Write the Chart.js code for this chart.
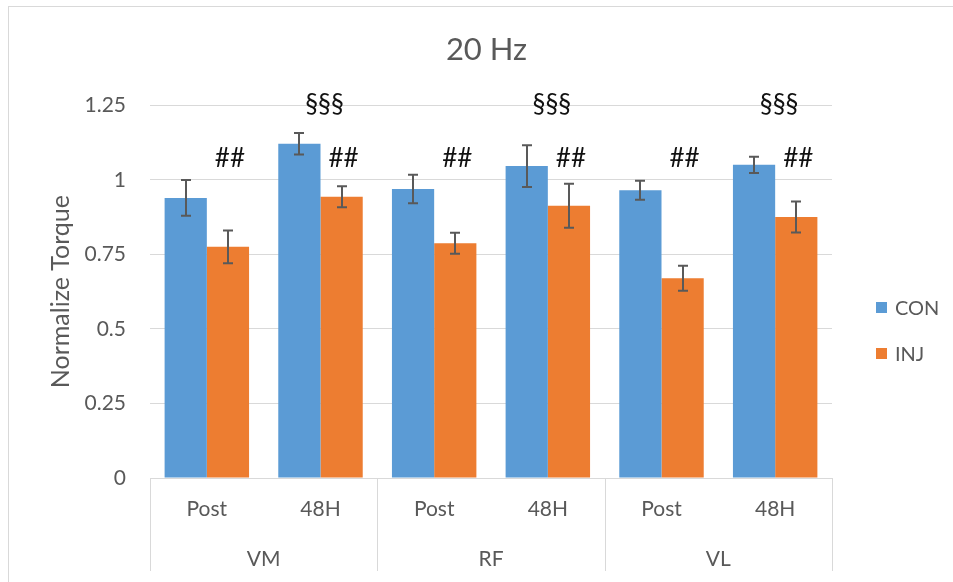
<!DOCTYPE html>
<html><head><meta charset="utf-8">
<script src="https://cdn.jsdelivr.net/npm/chart.js@4"></script>
<style>
html,body{margin:0;padding:0;background:#fff;overflow:hidden}
#wrap{position:relative;width:953px;height:582px;overflow:hidden;background:#fff}
#frame{position:absolute;left:8px;top:6px;width:1000px;height:1000px;border:1px solid #d9d9d9;box-sizing:border-box}
canvas{position:absolute;left:0;top:0}
</style></head><body>
<div id="wrap"><div id="frame"></div><canvas id="c" width="953" height="582"></canvas></div>
<script>
const groups = ['VM', 'RF', 'VL'];
const categories = ['Post', '48H', 'Post', '48H', 'Post', '48H'];
const seriesNames = ['CON', 'INJ'];
const conValues = [0.939, 1.121, 0.969, 1.046, 0.965, 1.050];
const conErrors = [0.060, 0.036, 0.048, 0.070, 0.032, 0.027];
const injValues = [0.775, 0.943, 0.787, 0.913, 0.670, 0.875];
const injErrors = [0.055, 0.035, 0.035, 0.074, 0.042, 0.052];
const injMarks = ['##', '##', '##', '##', '##', '##'];
const timeMarks = ['', '§§§', '', '§§§', '', '§§§'];
const injMarkLevel = 1.072;
const timeMarkLevel = 1.252;
const yTickValues = [0, 0.25, 0.5, 0.75, 1, 1.25];

const FONT = 'Lato, "Open Sans", sans-serif';
const GREY = '#595959';
const LINE = '#d9d9d9';
const COLORS = ['#5B9BD5', '#ED7D31'];
const errors = [conErrors, injErrors];

const extrasPlugin = {
  id: 'extras',
  afterDatasetsDraw(chart) {
    const ctx = chart.ctx;
    const y = chart.scales.y;
    ctx.save();
    ctx.strokeStyle = GREY;
    ctx.lineWidth = 2;
    chart.data.datasets.forEach((ds, i) => {
      const meta = chart.getDatasetMeta(i);
      meta.data.forEach((el, j) => {
        const v = ds.data[j], e = errors[i][j];
        const yt = y.getPixelForValue(v + e), yb = y.getPixelForValue(v - e);
        const x = Math.round(el.x);
        ctx.beginPath();
        ctx.moveTo(x, yt); ctx.lineTo(x, yb);
        ctx.moveTo(x - 5, yt); ctx.lineTo(x + 5, yt);
        ctx.moveTo(x - 5, yb); ctx.lineTo(x + 5, yb);
        ctx.stroke();
      });
    });
    ctx.fillStyle = '#111';
    ctx.font = '26px ' + FONT;
    ctx.textAlign = 'center';
    ctx.textBaseline = 'middle';
    const injMeta = chart.getDatasetMeta(1);
    injMarks.forEach((m, j) => {
      if (!m) return;
      ctx.fillText(m, injMeta.data[j].x + 2, y.getPixelForValue(injMarkLevel));
    });
    const xs = chart.scales.x;
    timeMarks.forEach((m, j) => {
      if (!m) return;
      ctx.fillText(m, xs.getPixelForValue(j) + 4, y.getPixelForValue(timeMarkLevel));
    });
    ctx.restore();
  },
  afterDraw(chart) {
    const ctx = chart.ctx;
    const xs = chart.scales.x;
    const ca = chart.chartArea;
    const w = (xs.right - xs.left) / categories.length;
    const per = categories.length / groups.length;
    ctx.save();
    ctx.strokeStyle = LINE;
    ctx.lineWidth = 1;
    for (let g = 0; g <= groups.length; g++) {
      const x = Math.round(xs.left + g * per * w) + 0.5;
      ctx.beginPath();
      ctx.moveTo(x, ca.bottom);
      ctx.lineTo(x, ca.bottom + 93);
      ctx.stroke();
    }
    ctx.fillStyle = GREY;
    ctx.font = '21px ' + FONT;
    ctx.textAlign = 'center';
    ctx.textBaseline = 'middle';
    groups.forEach((g, i) => {
      ctx.fillText(g, xs.left + (i + 0.5) * per * w, ca.bottom + 81);
    });
    const lx = ca.right + 44;
    const cy = (ca.top + ca.bottom) / 2 + 39;
    ctx.font = '20px ' + FONT;
    ctx.textAlign = 'left';
    chart.data.datasets.forEach((ds, i) => {
      const yy = cy + (i - 0.5) * 46;
      ctx.fillStyle = ds.backgroundColor;
      ctx.fillRect(lx, Math.round(yy - 5.5), 11, 11);
      ctx.fillStyle = GREY;
      ctx.fillText(ds.label, lx + 19, yy + 1);
    });
    ctx.restore();
  }
};

new Chart(document.getElementById('c'), {
  type: 'bar',
  data: {
    labels: categories,
    datasets: [
      { label: seriesNames[0], data: conValues, backgroundColor: COLORS[0] },
      { label: seriesNames[1], data: injValues, backgroundColor: COLORS[1] }
    ]
  },
  options: {
    responsive: false,
    animation: false,
    devicePixelRatio: 1,
    layout: { padding: { left: 20, right: 0, top: 0, bottom: 0 } },
    datasets: { bar: { categoryPercentage: 0.743, barPercentage: 1.0 } },
    plugins: {
      legend: { display: false },
      tooltip: { enabled: false },
      title: {
        display: true,
        text: '20 Hz',
        color: GREY,
        font: { family: FONT, size: 31, weight: 'normal', lineHeight: 1.2 },
        padding: { top: 31, bottom: 37 }
      }
    },
    scales: {
      x: {
        grid: { display: false },
        border: { display: true, color: LINE, width: 1 },
        ticks: { color: GREY, font: { family: FONT, size: 21 }, padding: 11, maxRotation: 0, autoSkip: false },
        afterFit(s) { s.height = 104; }
      },
      y: {
        min: 0, max: 1.25,
        afterBuildTicks(s) { s.ticks = yTickValues.map(v => ({ value: v })); },
        grid: { color: LINE, lineWidth: 1, drawTicks: false },
        border: { display: false },
        ticks: { color: GREY, font: { family: FONT, size: 21 }, padding: 24, callback: v => String(v) },
        title: {
          display: true,
          text: 'Normalize Torque',
          color: GREY,
          font: { family: FONT, size: 25, lineHeight: 1.2 },
          padding: { top: 26, bottom: 0 }
        },
        afterFit(s) { s.width = 130; }
      },
      legendSpace: {
        type: 'linear',
        position: 'right',
        min: 0, max: 1,
        grid: { display: false, drawOnChartArea: false },
        border: { display: false },
        ticks: { display: false },
        afterFit(s) { s.width = 121; }
      }
    }
  },
  plugins: [extrasPlugin]
});
</script>
</body></html>
